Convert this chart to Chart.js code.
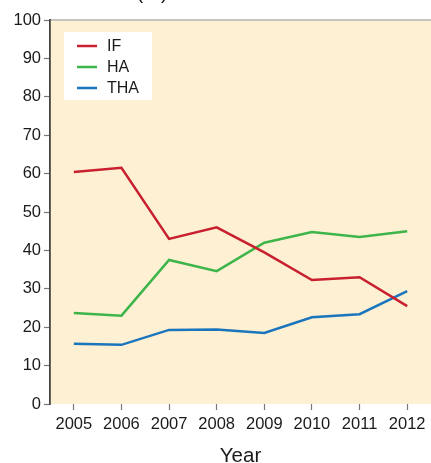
<!DOCTYPE html>
<html>
<head>
<meta charset="utf-8">
<script src="https://cdn.jsdelivr.net/npm/chart.js@4"></script>
<style>
  html, body { margin: 0; padding: 0; background: #fff; }
  #wrap { width: 431px; height: 463px; }
</style>
</head>
<body>
<div id="wrap"><canvas id="myChart" width="431" height="463"></canvas></div>
<script>
const years = ['2005', '2006', '2007', '2008', '2009', '2010', '2011', '2012']
const ifValues = [60.4, 61.5, 43, 46, 39.5, 32.3, 33, 25.5]
const haValues = [23.7, 23, 37.5, 34.6, 42, 44.8, 43.5, 45]
const thaValues = [15.7, 15.4, 19.3, 19.4, 18.5, 22.6, 23.4, 29.4]

const font = 'Liberation Sans, Arial, sans-serif'

// background, top border, legend box and cut-off title
const decor = {
  id: 'decor',
  beforeDraw(chart) {
    const { ctx, chartArea } = chart
    ctx.save()
    ctx.fillStyle = '#FDF0D3'
    ctx.fillRect(chartArea.left, chartArea.top, chartArea.right - chartArea.left, chartArea.bottom - chartArea.top)
    ctx.strokeStyle = '#b5b5b5'
    ctx.lineWidth = 1.5
    ctx.beginPath()
    ctx.moveTo(chartArea.left, chartArea.top)
    ctx.lineTo(chartArea.right, chartArea.top)
    ctx.stroke()
    ctx.fillStyle = '#1a1a1a'
    ctx.font = '20px ' + font
    ctx.textAlign = 'center'
    ctx.textBaseline = 'alphabetic'
    ctx.fillText('(%)', 152, -1)
    ctx.restore()
  },
  afterDatasetsDraw(chart) {
    const { ctx } = chart
    ctx.save()
    ctx.fillStyle = '#ffffff'
    ctx.fillRect(64, 32, 88, 68)
    ctx.font = '16px ' + font
    ctx.textBaseline = 'middle'
    chart.data.datasets.forEach((ds, i) => {
      const y = 46 + i * 21
      ctx.strokeStyle = ds.borderColor
      ctx.lineWidth = 2.5
      ctx.beginPath()
      ctx.moveTo(77, y)
      ctx.lineTo(97, y)
      ctx.stroke()
      ctx.fillStyle = '#1a1a1a'
      ctx.fillText(ds.label, 107, y + 1)
    })
    ctx.restore()
  }
}

new Chart(document.getElementById('myChart'), {
  type: 'line',
  data: {
    labels: years,
    datasets: [
      { label: 'IF', data: ifValues, borderColor: '#C8202F', borderWidth: 2.5, pointRadius: 0, tension: 0 },
      { label: 'HA', data: haValues, borderColor: '#3DB54A', borderWidth: 2.5, pointRadius: 0, tension: 0 },
      { label: 'THA', data: thaValues, borderColor: '#1B75BC', borderWidth: 2.5, pointRadius: 0, tension: 0 }
    ]
  },
  options: {
    responsive: false,
    animation: false,
    layout: { padding: { top: 20, right: 0, left: 0, bottom: 0 } },
    plugins: { legend: { display: false }, tooltip: { enabled: false } },
    scales: {
      x: {
        offset: true,
        grid: { drawOnChartArea: false, drawTicks: true, tickLength: 6, tickColor: '#777', tickWidth: 1.2 },
        border: { display: false },
        ticks: { color: '#1a1a1a', font: { family: font, size: 16.5 }, padding: 5, maxRotation: 0 },
        title: { display: true, text: 'Year', color: '#1a1a1a', font: { family: font, size: 20.5, lineHeight: 1 }, padding: { top: 8, bottom: -4 } },
        afterFit(s) { s.height = 59 }
      },
      y: {
        min: 0,
        max: 100,
        ticks: { stepSize: 10, color: '#1a1a1a', font: { family: font, size: 16.5 }, padding: 3 },
        grid: { drawOnChartArea: false, drawTicks: true, tickLength: 6, tickColor: '#777', tickWidth: 1.2 },
        border: { display: true, color: '#444', width: 1.8 },
        afterFit(s) { s.width = 50 }
      }
    }
  },
  plugins: [decor]
})
</script>
</body>
</html>
